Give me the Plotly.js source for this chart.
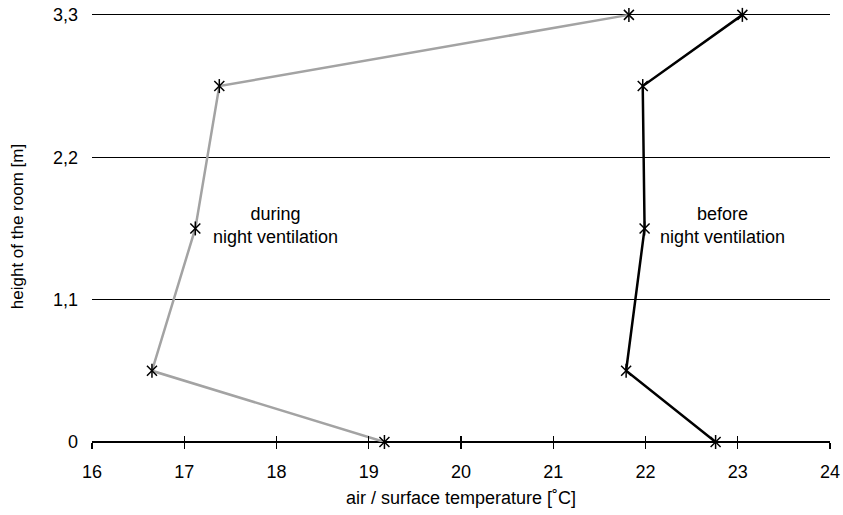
<!DOCTYPE html>
<html>
<head>
<meta charset="utf-8">
<script src="https://cdn.plot.ly/plotly-3.0.1.min.js"></script>
<style>html,body{margin:0;padding:0;background:#fff}#chart{width:843px;height:515px}</style>
</head>
<body>
<div id="chart"></div>
<script>
const heights = [0, 0.55, 1.65, 2.75, 3.3];
const duringTemp = [19.17, 16.65, 17.12, 17.38, 21.82];
const beforeTemp = [22.76, 21.79, 21.99, 21.97, 23.05];
const xTicks = [16, 17, 18, 19, 20, 21, 22, 23, 24];
const yTicks = [0, 1.1, 2.2, 3.3];
const yTickText = ['0', '1,1', '2,2', '3,3'];

const FONT = '"Liberation Sans", Arial, sans-serif';
const FS = 18;

function lineTrace(x, color) {
  return {x: x, y: heights, mode: 'lines', line: {color: color, width: 2.5},
    cliponaxis: false, hoverinfo: 'skip', showlegend: false};
}
function markerTrace(x, sym) {
  return {x: x, y: heights, mode: 'markers',
    marker: {symbol: sym, size: 10, color: '#000', line: {color: '#000', width: 1.5}},
    cliponaxis: false, hoverinfo: 'skip', showlegend: false};
}

const data = [
  lineTrace(duringTemp, '#a3a3a3'),
  lineTrace(beforeTemp, '#000000'),
  markerTrace(duringTemp, 'x-thin-open'),
  markerTrace(duringTemp, 'line-ns-open'),
  markerTrace(beforeTemp, 'x-thin-open'),
  markerTrace(beforeTemp, 'line-ns-open'),
  {x: [16, 24], y: [0, 0], xaxis: 'x2', mode: 'markers', marker: {opacity: 0}, hoverinfo: 'skip', showlegend: false}
];

const layout = {
  width: 843, height: 515,
  margin: {l: 92, r: 13, t: 11, b: 73},
  paper_bgcolor: '#fff', plot_bgcolor: '#fff',
  font: {family: FONT, size: FS, color: '#000'},
  separators: ',.',
  xaxis: {
    range: [16, 24], tickvals: xTicks, ticktext: xTicks.map(String),
    showgrid: false, zeroline: false,
    showline: false, ticks: 'outside', ticklen: 6, tickwidth: 1.2, tickcolor: '#000',
    ticklabelstandoff: 7,
    tickfont: {family: FONT, size: FS, color: '#000'},
    title: {text: 'air / surface temperature [˚C]', font: {family: FONT, size: FS, color: '#000'}, standoff: 10},
    fixedrange: true
  },
  xaxis2: {
    range: [16, 24], overlaying: 'x', tickvals: xTicks, showticklabels: false,
    showgrid: false, zeroline: false, showline: false,
    ticks: 'inside', ticklen: 6, tickwidth: 1.2, tickcolor: '#000', side: 'bottom', fixedrange: true
  },
  yaxis: {
    range: [0, 3.33], tickvals: yTicks, ticktext: yTickText,
    showgrid: true, gridcolor: '#000', gridwidth: 1.2,
    zeroline: true, zerolinecolor: '#000', zerolinewidth: 1.2,
    showline: false, ticks: '', ticklabelstandoff: 13,
    tickfont: {family: FONT, size: FS, color: '#000'},
    title: {text: 'height of the room [m]', font: {family: FONT, size: 17, color: '#000'}, standoff: 25},
    fixedrange: true
  },
  annotations: [
    {x: 17.99, y: 1.67, xref: 'x', yref: 'y', text: 'during<br>night ventilation', showarrow: false,
      font: {family: FONT, size: FS, color: '#000'}, align: 'center'},
    {x: 22.84, y: 1.67, xref: 'x', yref: 'y', text: 'before<br>night ventilation', showarrow: false,
      font: {family: FONT, size: FS, color: '#000'}, align: 'center'}
  ]
};

Plotly.newPlot('chart', data, layout, {displayModeBar: false, staticPlot: true});
</script>
</body>
</html>
